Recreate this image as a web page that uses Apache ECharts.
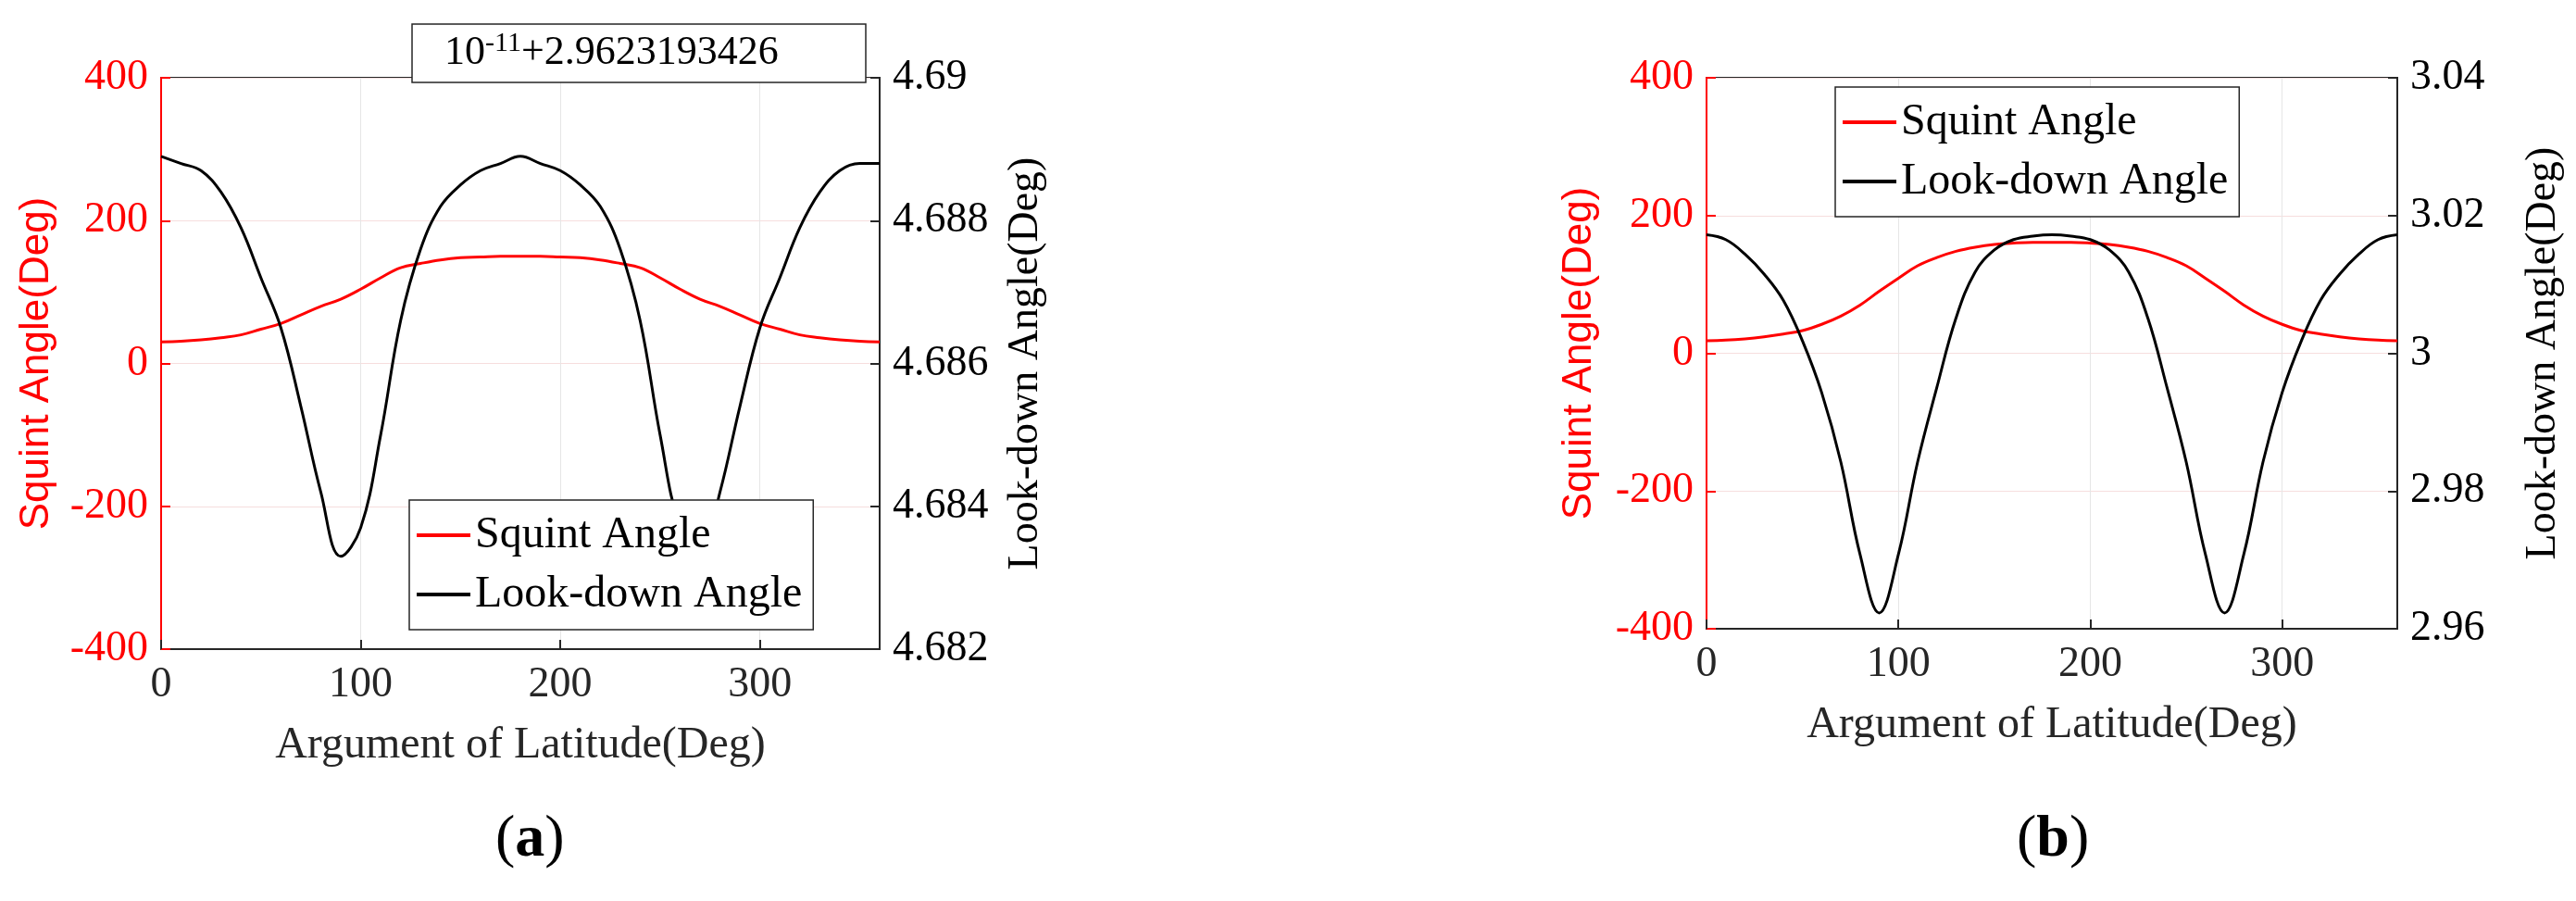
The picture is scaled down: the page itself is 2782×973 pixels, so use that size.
<!DOCTYPE html>
<html><head><meta charset="utf-8">
<script src="https://cdn.jsdelivr.net/npm/echarts@6/dist/echarts.min.js"></script>
<style>html,body{margin:0;background:#fff}#c{width:2782px;height:973px}</style>
</head><body><div id="c"></div>
<script>
// argument of latitude, 0..360 every 10 deg
const lat = [];
for (let i = 0; i <= 36; i++) lat.push(i * 10);

// panel (a)
const squintA = [30, 31, 33, 36, 40, 48, 56, 68, 80, 90, 104, 120, 134, 140, 145, 148, 149, 150, 150,
                 150, 149, 148, 145, 140, 134, 120, 104, 90, 80, 68, 56, 48, 40, 36, 33, 31, 30];
const lookA = [4.6889, 4.6888, 4.6887, 4.6884, 4.6879, 4.6872, 4.6865, 4.6854, 4.6842, 4.6833, 4.6837,
               4.6850, 4.6866, 4.6876, 4.6882, 4.6885, 4.6887, 4.6888, 4.6889,
               4.6888, 4.6887, 4.6885, 4.6882, 4.6876, 4.6866, 4.6850, 4.6837, 4.6833, 4.6842,
               4.6854, 4.6865, 4.6872, 4.6879, 4.6884, 4.6887, 4.6888, 4.6888];
// panel (b)
const squintB = [18, 19, 21, 24, 28, 33, 42, 54, 70, 90, 109, 127, 139, 148, 154, 158, 160, 161, 161,
                 161, 160, 158, 154, 148, 139, 127, 109, 90, 70, 54, 42, 33, 28, 24, 21, 19, 18];
const lookB = [3.0172, 3.0165, 3.0144, 3.0115, 3.0077, 3.0018, 2.9943, 2.9842, 2.9708, 2.9623, 2.9708,
               2.9842, 2.9950, 3.0051, 3.0118, 3.0150, 3.0165, 3.0170, 3.0172,
               3.0170, 3.0165, 3.0150, 3.0118, 3.0051, 2.9950, 2.9842, 2.9708, 2.9623, 2.9708,
               2.9842, 2.9943, 3.0018, 3.0077, 3.0115, 3.0144, 3.0165, 3.0172];

const serif = 'Liberation Serif';
const pair = (xs, ys) => xs.map((x, i) => [x, ys[i]]);

const chart = echarts.init(document.getElementById('c'));

function xAx(gi) {
  return {
    type: 'value', gridIndex: gi, min: 0, max: 360, interval: 100,
    name: 'Argument of Latitude(Deg)', nameLocation: 'middle', nameGap: 80,
    nameTextStyle: { fontFamily: serif, fontSize: 48, color: '#262626' },
    axisLine: { onZero: false, lineStyle: { color: '#262626', width: 2 } },
    axisTick: { inside: true, length: 10, lineStyle: { color: '#262626', width: 2 } },
    axisLabel: { fontFamily: serif, fontSize: 46, color: '#262626', margin: 16, showMaxLabel: false },
    splitLine: { show: true, lineStyle: { color: '#e6e6e6', width: 1 } }
  };
}
function yLeft(gi, gap) {
  return {
    type: 'value', gridIndex: gi, min: -400, max: 400, interval: 200, position: 'left',
    name: 'Squint Angle(Deg)', nameLocation: 'middle', nameGap: gap, nameRotate: 90,
    nameTextStyle: { fontFamily: 'Liberation Sans', fontSize: 44, color: '#ff0000' },
    axisLine: { show: true, onZero: false, lineStyle: { color: '#ff0000', width: 2 } },
    axisTick: { show: true, inside: true, length: 10, lineStyle: { color: '#ff0000', width: 2 } },
    axisLabel: { fontFamily: serif, fontSize: 46, color: '#ff0000', margin: 14 },
    splitLine: { show: true, lineStyle: { color: '#f6dede', width: 1 } }
  };
}
function yRight(gi, min, max, interval, digits) {
  return {
    type: 'value', gridIndex: gi, min: min, max: max, interval: interval, position: 'right',
    name: 'Look-down Angle(Deg)', nameLocation: 'middle', nameGap: 135, nameRotate: 90,
    nameTextStyle: { fontFamily: serif, fontSize: 46, color: '#000' },
    axisLine: { show: true, onZero: false, lineStyle: { color: '#262626', width: 2 } },
    axisTick: { show: true, inside: true, length: 10, lineStyle: { color: '#262626', width: 2 } },
    axisLabel: { fontFamily: serif, fontSize: 46, color: '#000', margin: 14,
      formatter: v => parseFloat(v.toFixed(digits)).toString() },
    splitLine: { show: false }
  };
}
const line = (name, xi, yi, data, color) => ({
  name: name, type: 'line', xAxisIndex: xi, yAxisIndex: yi, data: data,
  showSymbol: false, smooth: 0.4, lineStyle: { color: color, width: 3 }, itemStyle: { color: color },
  z: 2
});
const legendCommon = {
  orient: 'vertical', backgroundColor: '#fff', borderColor: '#262626', borderWidth: 1.5,
  itemWidth: 58, itemHeight: 4, itemGap: 16, padding: [14, 12, 14, 8], z: 10,
  textStyle: { fontFamily: serif, fontSize: 48, color: '#000' },
  icon: 'rect'
};

chart.setOption({
  animation: false,
  grid: [
    { left: 174, top: 84, width: 776, height: 617, show: true, borderColor: '#262626', borderWidth: 2 },
    { left: 1843, top: 84, width: 746, height: 595, show: true, borderColor: '#262626', borderWidth: 2 }
  ],
  xAxis: [xAx(0), xAx(1)],
  yAxis: [yLeft(0, 112), yRight(0, 4.682, 4.69, 0.002, 3), yLeft(1, 115), yRight(1, 2.96, 3.04, 0.02, 2)],
  legend: [
    Object.assign({ left: 442, top: 540, data: ['Squint Angle', 'Look-down Angle'] }, legendCommon),
    Object.assign({ left: 1982, top: 94, data: ['Squint Angle', 'Look-down Angle'] }, legendCommon)
  ],
  series: [
    line('Squint Angle', 0, 0, pair(lat, squintA), '#ff0000'),
    line('Look-down Angle', 0, 1, pair(lat, lookA), '#000000'),
    line('Squint Angle', 1, 2, pair(lat, squintB), '#ff0000'),
    line('Look-down Angle', 1, 3, pair(lat, lookB), '#000000')
  ],
  graphic: [
    { type: 'rect', shape: { x: 445, y: 26, width: 490, height: 63 }, z: 100,
      style: { fill: '#fff', stroke: '#262626', lineWidth: 1.5 } },
    { type: 'text', left: 480, top: 32, z: 101,
      style: { text: '10{s|-11}+2.9623193426', fontFamily: serif, fontSize: 44, fill: '#000',
        rich: { s: { fontFamily: serif, fontSize: 30, verticalAlign: 'top', padding: [0, 0, 20, 0] } } } },
    { type: 'text', left: 535, top: 875, style: { text: '({a|a})', fontFamily: serif, fontSize: 64, fill: '#000',
        rich: { a: { fontFamily: serif, fontSize: 64, fontWeight: 'bold' } } } },
    { type: 'text', left: 2178, top: 875, style: { text: '({b|b})', fontFamily: serif, fontSize: 64, fill: '#000',
        rich: { b: { fontFamily: serif, fontSize: 64, fontWeight: 'bold' } } } }
  ]
});
</script></body></html>
